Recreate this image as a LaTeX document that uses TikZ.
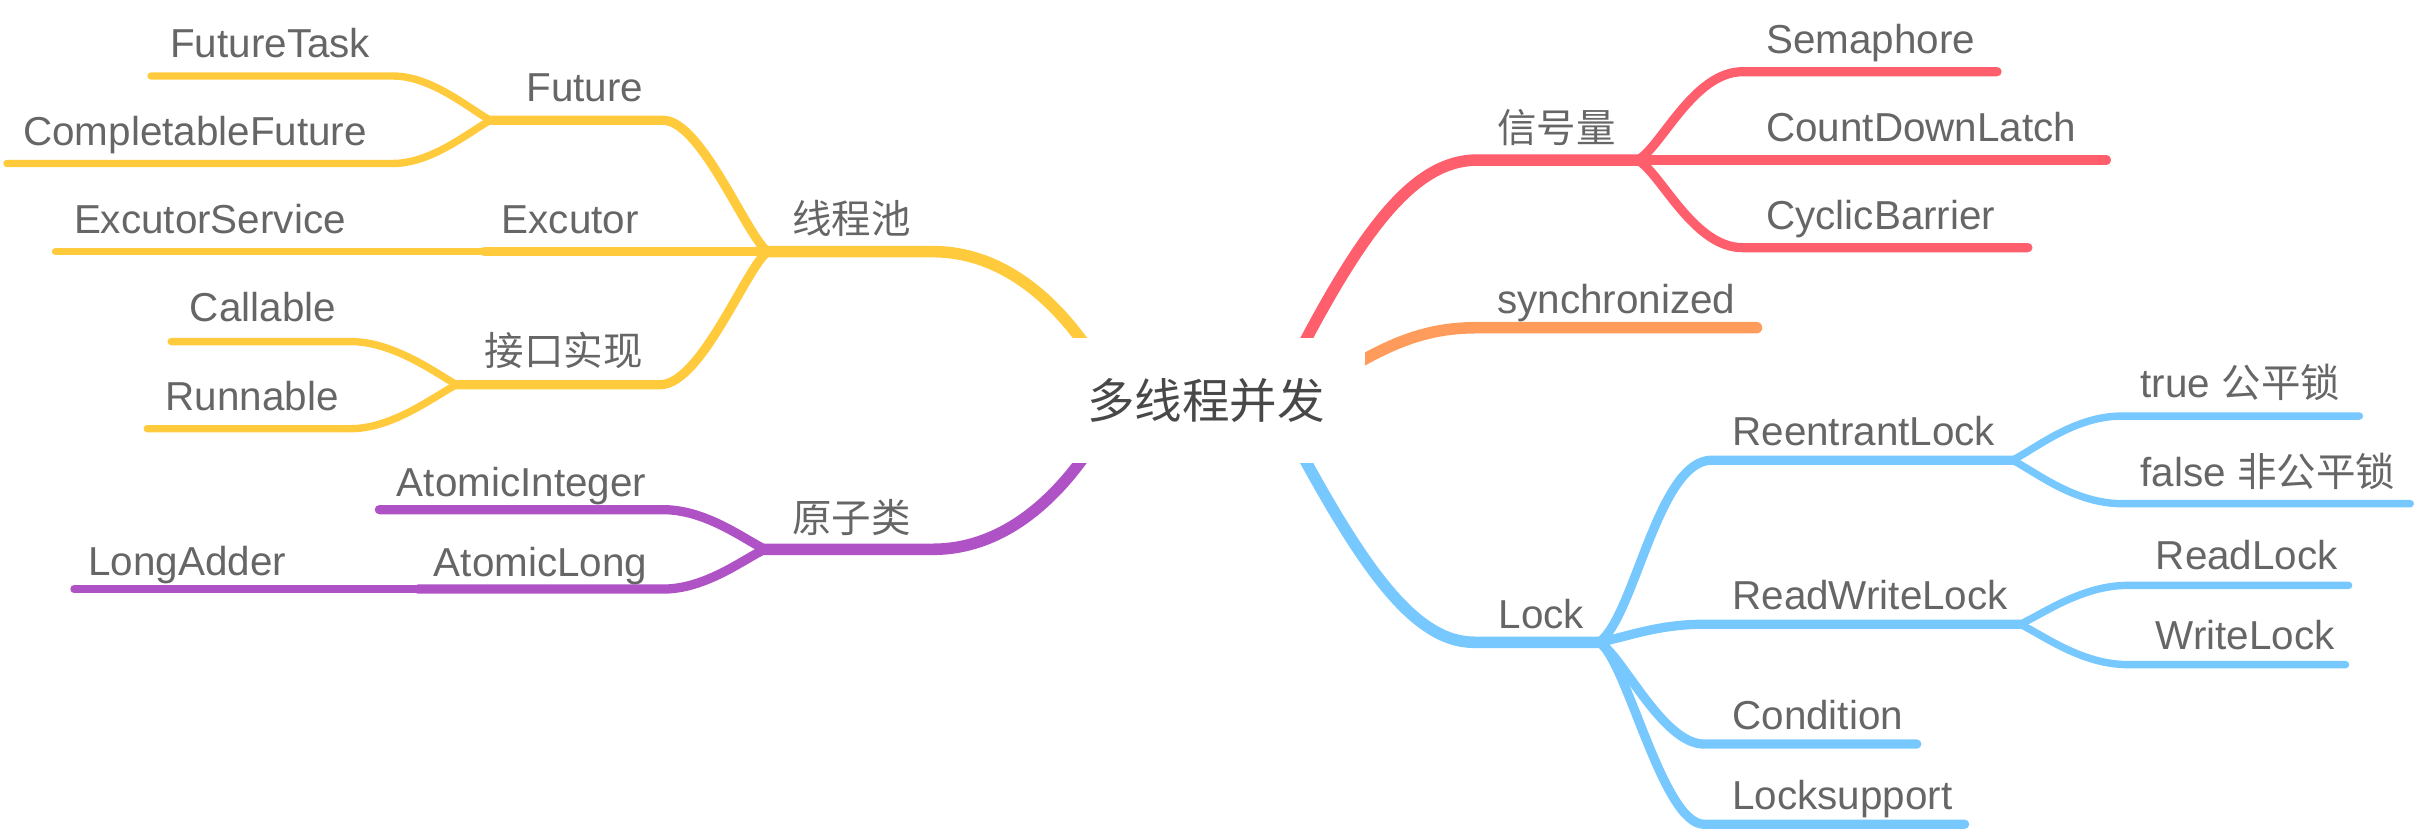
\documentclass[tikz,border=0pt]{standalone}
\usepackage{fontspec}
\setmainfont{Liberation Sans}
\newfontfamily\cjk{Noto Sans CJK SC}
\newcommand\cjktxt[1]{{\fontsize{12.8}{15}\selectfont\cjk #1}}
\pgfdeclarelayer{bg}
\pgfsetlayers{bg,main}
\definecolor{colY}{HTML}{FFCB3D}
\definecolor{colR}{HTML}{FF5E6C}
\definecolor{colO}{HTML}{FF9C5B}
\definecolor{colB}{HTML}{77C8FE}
\definecolor{colP}{HTML}{AF52C6}
\definecolor{txt}{HTML}{666666}
\definecolor{ctxt}{HTML}{484848}
\tikzset{
  lone/.style={line width=3.75pt, line cap=round},
  ltwo/.style={line width=3pt, line cap=round},
  lthree/.style={line width=2.4pt, line cap=round},
  lbl/.style={anchor=base west, inner sep=0pt, text=txt, font=\fontsize{13.1}{15}\selectfont},
  centernode/.style={fill=white, inner sep=0pt, minimum width=103pt, minimum height=40.5pt, text=ctxt, font=\fontsize{15.4}{18}\selectfont\cjk}
}
\begin{document}
\begin{tikzpicture}[x=0.5pt,y=-0.5pt]
\useasboundingbox (0,0) rectangle (1568,539.5);
\node[centernode] (c) at (782,259.5) {多线程并发};
% inner ends of main branches
\coordinate (cY) at (720,250);
\coordinate (cP) at (720,269);
\coordinate (cR) at (830,253);
\coordinate (cO) at (860,248);
\coordinate (cB) at (830,268);
% junctions
\coordinate (jXC) at (498,163.2);
\coordinate (jFut) at (318,78);
\coordinate (jExc) at (314,163.2);
\coordinate (jJK) at (296,249.5);
\coordinate (jYZ) at (496,356.2);
\coordinate (jAL) at (271,382);
\coordinate (jXH) at (1062,103.8);
\coordinate (jLock) at (1037,416.5);
\coordinate (jRL) at (1305,298.4);
\coordinate (jRWL) at (1310,404.8);
% free ends
\coordinate (eFutureTask) at (98,49.3);
\coordinate (eCompletable) at (4.5,106);
\coordinate (eExcService) at (36,163.2);
\coordinate (eCallable) at (111,221.5);
\coordinate (eRunnable) at (95.5,278);
\coordinate (eAtomicInt) at (246,330.5);
\coordinate (eLongAdder) at (48,382);
\coordinate (eSemaphore) at (1295,46.5);
\coordinate (eCDL) at (1366,103.8);
\coordinate (eCB) at (1315,160.6);
\coordinate (eSync) at (1139,212.5);
\coordinate (eTrue) at (1530,269.8);
\coordinate (eFalse) at (1563,326.6);
\coordinate (eRead) at (1523,379.6);
\coordinate (eWrite) at (1521,431);
\coordinate (eCond) at (1243,482.5);
\coordinate (eLS) at (1274,534.5);

\begin{pgfonlayer}{bg}
% yellow
\draw[lone,colY] (cY) .. controls (690,195) and (650,163.2) .. (605,163.2) -- (jXC);
\draw[ltwo,colY] (jXC) .. controls (485,155) and (455,78) .. (430,78) -- (jFut);
\draw[ltwo,colY] (jXC) -- (jExc);
\draw[lthree,colY] (jExc) -- (eExcService);
\draw[ltwo,colY] (jXC) .. controls (485,171) and (455,249.5) .. (428,249.5) -- (jJK);
\draw[lthree,colY] (jFut) .. controls (305,71) and (280,49.3) .. (255,49.3) -- (eFutureTask);
\draw[lthree,colY] (jFut) .. controls (305,85) and (280,106) .. (255,106) -- (eCompletable);
\draw[lthree,colY] (jJK) .. controls (283,242) and (255,221.5) .. (227.5,221.5) -- (eCallable);
\draw[lthree,colY] (jJK) .. controls (283,256) and (255,278) .. (227.5,278) -- (eRunnable);
% purple
\draw[lone,colP] (cP) .. controls (690,324) and (650,356.2) .. (605,356.2) -- (jYZ);
\draw[ltwo,colP] (jYZ) .. controls (483,350) and (458,330.5) .. (430,330.5) -- (eAtomicInt);
\draw[ltwo,colP] (jYZ) .. controls (483,362) and (458,382) .. (430,382) -- (jAL);
\draw[lthree,colP] (jAL) -- (eLongAdder);
% red
\draw[lone,colR] (cR) .. controls (880,153) and (915,103.8) .. (958,103.8) -- (jXH);
\draw[ltwo,colR] (jXH) .. controls (1077,96) and (1098,46.5) .. (1130,46.5) -- (eSemaphore);
\draw[ltwo,colR] (jXH) -- (eCDL);
\draw[ltwo,colR] (jXH) .. controls (1077,112) and (1098,160.6) .. (1130,160.6) -- (eCB);
% orange
\draw[lone,colO] (cO) .. controls (900,222) and (925,212.5) .. (958,212.5) -- (eSync);
% blue
\draw[lone,colB] (cB) .. controls (880,363) and (915,416.5) .. (956,416.5) -- (jLock);
\draw[ltwo,colB] (jLock) .. controls (1060,400) and (1075,298.4) .. (1110,298.4) -- (jRL);
\draw[ltwo,colB] (jLock) .. controls (1055,413) and (1075,404.8) .. (1105,404.8) -- (jRWL);
\draw[ltwo,colB] (jLock) .. controls (1052,425) and (1078,482.5) .. (1105,482.5) -- (eCond);
\draw[ltwo,colB] (jLock) .. controls (1055,428) and (1078,534.5) .. (1105,534.5) -- (eLS);
\draw[lthree,colB] (jRL) .. controls (1320,291) and (1345,269.8) .. (1376,269.8) -- (eTrue);
\draw[lthree,colB] (jRL) .. controls (1320,306) and (1345,326.6) .. (1376,326.6) -- (eFalse);
\draw[lthree,colB] (jRWL) .. controls (1325,398) and (1350,379.6) .. (1380,379.6) -- (eRead);
\draw[lthree,colB] (jRWL) .. controls (1325,412) and (1350,431) .. (1380,431) -- (eWrite);
\end{pgfonlayer}

% labels left
\node[lbl] (tFutureTask) at (110,37.5) {FutureTask};
\node[lbl] (tFuture) at (341,66) {Future};
\node[lbl] (tCompletable) at (14.7,94.5) {CompletableFuture};
\node[lbl] (tExcService) at (47.6,151.3) {ExcutorService};
\node[lbl] (tExcutor) at (325,151.3) {Excutor};
\node[lbl] (tXC) at (513.5,151.7) {\cjktxt{线程池}};
\node[lbl] (tCallable) at (122.8,208.6) {Callable};
\node[lbl] (tJK) at (314,237) {\cjktxt{接口实现}};
\node[lbl] (tRunnable) at (107,266.5) {Runnable};
\node[lbl] (tAtomicInt) at (257,322) {AtomicInteger};
\node[lbl] (tYZ) at (513.5,345.2) {\cjktxt{原子类}};
\node[lbl] (tAtomicLong) at (281,374) {AtomicLong};
\node[lbl] (tLongAdder) at (57,373.5) {LongAdder};
% labels right
\node[lbl] (tXH) at (970.5,92.2) {\cjktxt{信号量}};
\node[lbl] (tSemaphore) at (1145,34.6) {Semaphore};
\node[lbl] (tCDL) at (1145,91.9) {CountDownLatch};
\node[lbl] (tCB) at (1145,148.7) {CyclicBarrier};
\node[lbl] (tSync) at (970.6,203.2) {synchronized};
\node[lbl] (tLock) at (971.5,407.5) {Lock};
\node[lbl] (tRL) at (1123,288.6) {ReentrantLock};
\node[lbl] (tTrue) at (1387.8,257.7) {true \cjktxt{公平锁}};
\node[lbl] (tFalse) at (1387.8,315.2) {false \cjktxt{非公平锁}};
\node[lbl] (tRWL) at (1123,395.2) {ReadWriteLock};
\node[lbl] (tRead) at (1397.6,369) {ReadLock};
\node[lbl] (tWrite) at (1397.6,421) {WriteLock};
\node[lbl] (tCond) at (1123,473) {Condition};
\node[lbl] (tLS) at (1123,524.9) {Locksupport};
\end{tikzpicture}
\end{document}
